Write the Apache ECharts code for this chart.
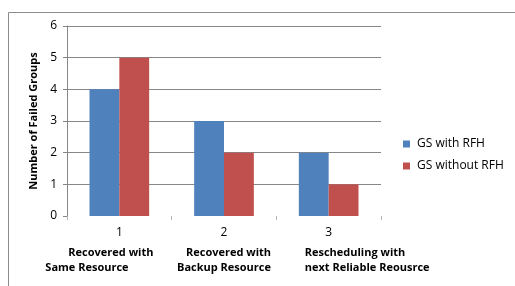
<!DOCTYPE html>
<html>
<head>
<meta charset="utf-8">
<script src="https://cdn.jsdelivr.net/npm/echarts@6/dist/echarts.min.js"></script>
<style>
html,body{margin:0;padding:0;background:#fff;}
#chart{width:515px;height:286px;}
</style>
</head>
<body>
<div id="chart"></div>
<script>
// ---- data ----
const categories = ['1', '2', '3'];
const categoryLine1 = ['Recovered with', 'Recovered with', 'Rescheduling with'];
const categoryLine2 = ['Same Resource', 'Backup Resource', 'next Reliable Reousrce'];
const seriesNames = ['GS with RFH', 'GS without RFH'];
const withRFH = [4, 3, 2];
const withoutRFH = [5, 2, 1];
const yMin = 0, yMax = 6, yStep = 1;
const yAxisTitle = 'Number of Failed Groups';

// ---- style ----
const FONT = 'Open Sans';
const W = 300;
const lineOffsets = [[-51, -74], [-38, -47], [-24, -24]];
const rich = {
  n: { width: W, align: 'center', lineHeight: 25, fontSize: 12, fontFamily: FONT, color: '#000' }
};
lineOffsets.forEach(function (off, i) {
  ['a', 'b'].forEach(function (k, j) {
    const P = W / 2 + off[j];
    rich[k + i] = {
      width: W - P, padding: [0, 0, 0, P], align: 'left', lineHeight: 15,
      fontSize: 11, fontWeight: 'bold', fontFamily: FONT, color: '#000'
    };
  });
});

const chart = echarts.init(document.getElementById('chart'), null, { renderer: 'canvas' });
const gridColor = '#878787';
const splitColors = [];
for (let v = yMin; v <= yMax; v += yStep) splitColors.push(v === yMin ? 'rgba(0,0,0,0)' : gridColor);

chart.setOption({
  animation: false,
  backgroundColor: '#fff',
  graphic: [{
    type: 'rect', shape: { x: 8.5, y: 12.5, width: 700, height: 400 },
    style: { fill: 'none', stroke: '#8c8c8c', lineWidth: 1 }, silent: true, z: -10
  }],
  grid: { left: 67, top: 26, right: 134, bottom: 70, containLabel: false, outerBoundsMode: 'none' },
  legend: {
    orient: 'vertical', left: 398, top: 133, itemWidth: 7, itemHeight: 7, itemGap: 10,
    icon: 'rect', data: seriesNames,
    textStyle: { fontFamily: FONT, fontSize: 12, color: '#000', padding: [0, 0, 0, 2] }
  },
  xAxis: {
    type: 'category', data: categories,
    axisLine: { show: false },
    axisTick: { show: true, length: 4, lineStyle: { color: '#b5b5b5' } },
    axisLabel: {
      interval: 0, margin: 4, align: 'center', verticalAlign: 'top',
      formatter: function (v, i) {
        return '{n|' + v + '}\n{a' + i + '|' + categoryLine1[i] + '}\n{b' + i + '|' + categoryLine2[i] + '}';
      },
      rich: rich
    }
  },
  yAxis: {
    type: 'value', min: yMin, max: yMax, interval: yStep,
    name: yAxisTitle, nameLocation: 'middle', nameGap: 28,
    nameTextStyle: { fontFamily: FONT, fontSize: 11, fontWeight: 'bold', color: '#000' },
    axisLine: { show: true, lineStyle: { color: gridColor } },
    axisTick: { show: true, length: 4, lineStyle: { color: gridColor } },
    axisLabel: { margin: 10, fontFamily: FONT, fontSize: 12, color: '#000' },
    splitLine: { show: true, lineStyle: { color: splitColors, width: 1 } }
  },
  series: [
    { name: seriesNames[0], type: 'bar', data: withRFH, barGap: '0%', barCategoryGap: '43%',
      itemStyle: { color: '#4F81BD' } },
    { name: seriesNames[1], type: 'bar', data: withoutRFH, barGap: '0%', barCategoryGap: '43%',
      itemStyle: { color: '#C0504D' } }
  ]
});
</script>
</body>
</html>
